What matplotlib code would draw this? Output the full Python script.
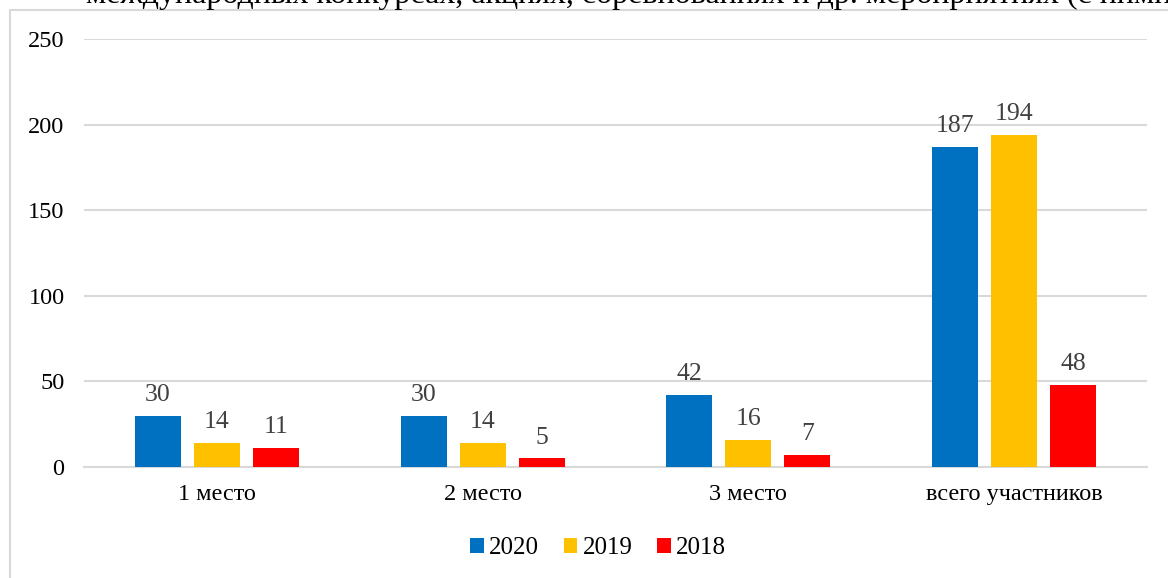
import numpy as np
import matplotlib.pyplot as plt

# data
categories = ["1 место", "2 место", "3 место", "всего участников"]
years = ["2020", "2019", "2018"]
values_2020 = [30, 30, 42, 187]
values_2019 = [14, 14, 16, 194]
values_2018 = [11, 5, 7, 48]
colors = ["#0070C0", "#FFC000", "#FF0000"]
yticks = [0, 50, 100, 150, 200, 250]

plt.rcParams['font.family'] = ['Liberation Serif', 'DejaVu Serif']

fig = plt.figure(figsize=(11.68, 5.78), dpi=100)

# chart frame (only top/left edges are visible in the crop)
frame = plt.Rectangle((10 / 1168, -0.1), 1.2, 1 - 10 / 578 + 0.1,
                      transform=fig.transFigure, fill=False,
                      edgecolor="#d9d9d9", linewidth=1.5)
fig.patches.append(frame)

# cut-off line of document text above the chart
fig.text(86 / 1168, 1 - 3 / 578,
         "международных конкурсах, акциях, соревнованиях и др. мероприятиях (с ними",
         fontsize=23, ha="left", va="baseline", color="black")

ax = fig.add_axes([84 / 1168, 1 - 467 / 578, (1147 - 84) / 1168, (467 - 39) / 578])

x = np.arange(len(categories))
width = 0.173
step = 0.222
series = [values_2020, values_2019, values_2018]
for i, (vals, year, col) in enumerate(zip(series, years, colors)):
    bars = ax.bar(x + (i - 1) * step, vals, width, color=col, label=year, zorder=3)
    for b, v in zip(bars, vals):
        ax.annotate(str(v), (b.get_x() + b.get_width() / 2, v),
                    xytext=(0, 7), textcoords="offset points",
                    ha="center", va="bottom", fontsize=18.5, color="#404040")

ax.set_xlim(-0.5, len(categories) - 0.5)
ax.set_ylim(0, 250)
ax.set_yticks(yticks)
ax.set_xticks(x)
ax.set_xticklabels(categories)
ax.tick_params(axis="both", length=0, labelsize=17.5)
ax.tick_params(axis="y", pad=14)
ax.tick_params(axis="x", pad=12)
ax.grid(axis="y", color="#d9d9d9", linewidth=1.5, zorder=0)
for s in ["top", "right", "left"]:
    ax.spines[s].set_visible(False)
ax.spines["bottom"].set_color("#d9d9d9")
ax.spines["bottom"].set_linewidth(1.5)

fig.legend(loc="center", bbox_to_anchor=(598 / 1168, 1 - 548 / 578), ncol=3,
           frameon=False, prop={"family": "Liberation Serif", "size": 18},
           handlelength=0.55, handleheight=0.55,
           handletextpad=0.2, columnspacing=1.0)

fig.savefig("out.png", dpi=100)
